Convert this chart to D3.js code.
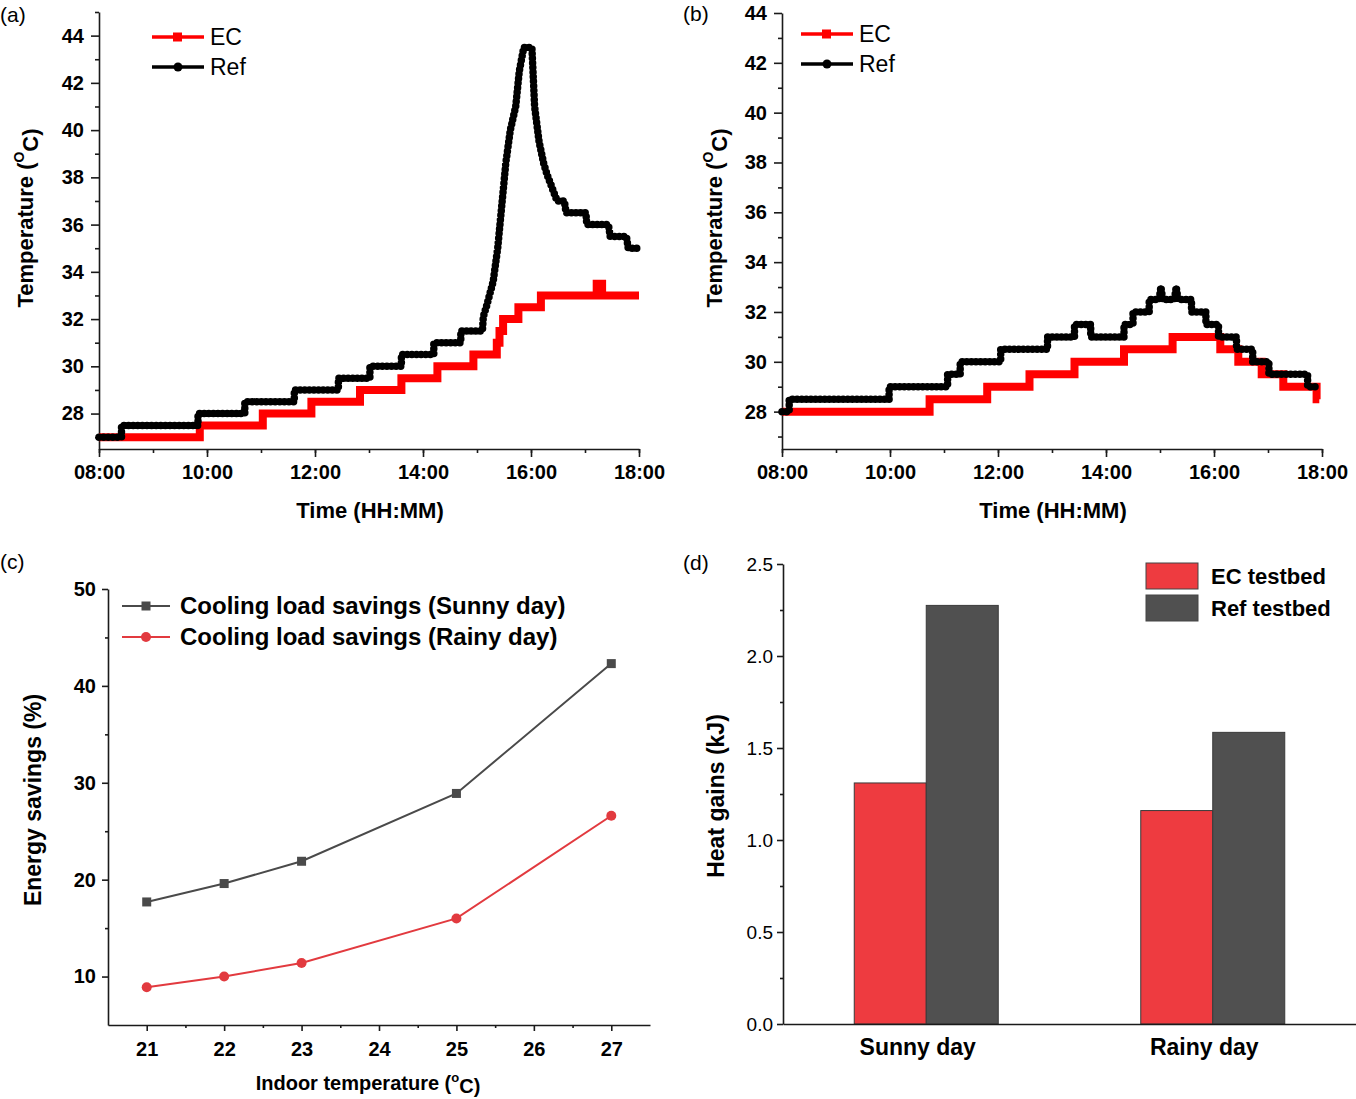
<!DOCTYPE html>
<html>
<head>
<meta charset="utf-8">
<script src="https://cdn.jsdelivr.net/npm/d3@7"></script>
<style>
body { margin: 0; background: #fff; }
text { font-family: "Liberation Sans", Arial, sans-serif; fill: #000; }
.ax .domain, .ax line { stroke: #1a1a1a; stroke-width: 1.6; }
</style>
</head>
<body>
<svg id="fig" width="1356" height="1099"></svg>
<script>
// ---- data ----
var timeTicks = ["08:00", "10:00", "12:00", "14:00", "16:00", "18:00"];
var tempTicks = [28, 30, 32, 34, 36, 38, 40, 42, 44];

// (a) sunny day, indoor temperature [time, degC]
var ecA = [["08:00",27],["09:52",27],["09:52",27.5],["11:02",27.5],["11:02",28],["11:56",28],["11:56",28.5],
  ["12:50",28.5],["12:50",29],["13:36",29],["13:36",29.5],["14:16",29.5],["14:16",30],["14:56",30],["14:56",30.5],
  ["15:22",30.5],["15:22",31],["15:25",31],["15:25",31.5],["15:29",31.5],["15:29",32],["15:46",32],["15:46",32.5],
  ["16:11",32.5],["16:11",33],["17:13",33],["17:13",33.5],["17:19",33.5],["17:19",33],["18:00",33]];
var refA = [["08:00",27],["08:25",27],["08:25",27.5],["09:50",27.5],["09:50",28],["10:42",28],["10:42",28.5],
  ["11:37",28.5],["11:37",29],["12:26",29],["12:26",29.5],["13:01",29.5],["13:01",30],["13:36",30],["13:36",30.5],
  ["14:12",30.5],["14:12",31],["14:42",31],["14:42",31.5],["15:06",31.5],["15:07",32.1],["15:11",32.6],
  ["15:18",33.6],["15:23",35.0],["15:28",37.0],["15:32",38.6],["15:37",40.0],["15:43",41.0],["15:47",42.5],
  ["15:52",43.5],["16:01",43.5],["16:04",41.0],["16:09",39.5],["16:14",38.6],["16:18",38.1],["16:23",37.6],
  ["16:29",37.0],["16:37",37.0],["16:39",36.5],["17:01",36.5],["17:02",36.0],["17:26",36.0],["17:28",35.5],
  ["17:46",35.5],["17:48",35.0],["18:00",35.0]];

// (b) rainy day
var ecB = [["08:00",28],["10:44",28],["10:44",28.5],["11:48",28.5],["11:48",29],["12:35",29],["12:35",29.5],
  ["13:25",29.5],["13:25",30],["14:20",30],["14:20",30.5],["15:14",30.5],["15:14",31],["16:07",31],["16:07",30.5],
  ["16:27",30.5],["16:27",30],["16:53",30],["16:53",29.5],["17:17",29.5],["17:17",29],["17:54",29],["17:54",28.5],
  ["17:57",28.5]];
var refB = [["08:00",28],["08:08",28],["08:08",28.5],["09:59",28.5],["09:59",29],["11:04",29],["11:04",29.5],
  ["11:18",29.5],["11:18",30],["12:03",30],["12:03",30.5],["12:55",30.5],["12:55",31],["13:25",31],["13:25",31.5],
  ["13:43",31.5],["13:43",31],["14:20",31],["14:20",31.5],["14:30",31.5],["14:30",32],["14:48",32],["14:48",32.5],
  ["14:59",32.5],["15:01",33],["15:03",32.5],["15:16",32.5],["15:18",33],["15:20",32.5],["15:35",32.5],["15:35",32],
  ["15:51",32],["15:51",31.5],["16:05",31.5],["16:05",31],["16:25",31],["16:25",30.5],["16:43",30.5],["16:43",30],
  ["17:01",30],["17:01",29.5],["17:44",29.5],["17:44",29],["17:55",29]];

// (c) cooling load savings vs indoor set point
var indoorT = [21, 22, 23, 25, 27];
var sunnySave = [17.7, 19.6, 21.9, 28.9, 42.3];
var rainySave = [8.9, 10.0, 11.4, 16.0, 26.6];
var saveTicks = [10, 20, 30, 40, 50];
var indoorTicks = [21, 22, 23, 24, 25, 26, 27];

// (d) heat gains
var days = ["Sunny day", "Rainy day"];
var ecGain = [1.31, 1.16];
var refGain = [2.275, 1.585];
var gainTicks = [0, 0.5, 1.0, 1.5, 2.0, 2.5];

var RED = "#ff0000", EC_BAR = "#ee3b40", GREY = "#505050";

var svg = d3.select("#fig");
var parseT = d3.timeParse("%H:%M");

function styleTicks(sel, size, weight) {
  sel.selectAll("text").attr("font-size", size).attr("font-weight", weight)
    .attr("fill", "#000").style("font-family", '"Liberation Sans", Arial, sans-serif');
}
function noDomain(sel) { sel.select(".domain").remove(); }

function panelLabel(x, y, t) {
  svg.append("text").attr("x", x).attr("y", y).attr("dy", "0.35em")
    .attr("font-size", 21).text(t);
}

// temperature panels (a) and (b)
function tempPanel(cfg) {
  var g = svg.append("g");
  var x = d3.scaleTime().domain([parseT("08:00"), parseT("18:00")]).range([cfg.x0, cfg.x1]);
  var y = d3.scaleLinear().domain(cfg.yDom).range([449, cfg.yTop]);

  g.append("g").attr("class", "ax").attr("transform", "translate(0,449)")
    .call(d3.axisBottom(x).tickValues(x.ticks(d3.timeHour.every(1))).tickSize(4).tickFormat(""))
    .call(noDomain);
  g.append("g").attr("class", "ax").attr("transform", "translate(0,449)")
    .call(d3.axisBottom(x).tickValues(timeTicks.map(parseT)).tickSize(8).tickSizeOuter(0)
      .tickPadding(8).tickFormat(d3.timeFormat("%H:%M")))
    .call(styleTicks, 20, "bold");

  var minorY = d3.range(27, cfg.yDom[1] + 0.01, 2);
  g.append("g").attr("class", "ax").attr("transform", "translate(" + cfg.x0 + ",0)")
    .call(d3.axisLeft(y).tickValues(minorY).tickSize(4).tickFormat(""))
    .call(noDomain);
  g.append("g").attr("class", "ax").attr("transform", "translate(" + cfg.x0 + ",0)")
    .call(d3.axisLeft(y).tickValues(tempTicks).tickSize(8).tickSizeOuter(0).tickPadding(7))
    .call(styleTicks, 20, "bold");

  var line = d3.line().x(function (d) { return x(parseT(d[0])); }).y(function (d) { return y(d[1]); });

  g.append("path").datum(cfg.ec).attr("d", line).attr("fill", "none")
    .attr("stroke", RED).attr("stroke-width", 8).attr("stroke-linejoin", "miter");
  g.append("path").datum(cfg.ref).attr("d", line).attr("fill", "none")
    .attr("stroke", "#000").attr("stroke-width", 3).attr("stroke-linejoin", "round");
  g.append("path").datum(cfg.ref).attr("d", line).attr("fill", "none")
    .attr("stroke", "#000").attr("stroke-width", 7.5).attr("stroke-linecap", "round")
    .attr("stroke-dasharray", "0 4.6");

  // legend
  var lg = g.append("g");
  var lx = cfg.legX;
  lg.append("line").attr("x1", lx).attr("x2", lx + 52).attr("y1", cfg.legY).attr("y2", cfg.legY)
    .attr("stroke", RED).attr("stroke-width", 3.5);
  lg.append("rect").attr("x", lx + 21).attr("y", cfg.legY - 4.5).attr("width", 9).attr("height", 9).attr("fill", RED);
  lg.append("text").attr("x", lx + 58).attr("y", cfg.legY).attr("dy", "0.35em").attr("font-size", 23).text("EC");
  lg.append("line").attr("x1", lx).attr("x2", lx + 52).attr("y1", cfg.legY + 30).attr("y2", cfg.legY + 30)
    .attr("stroke", "#000").attr("stroke-width", 3.5);
  lg.append("circle").attr("cx", lx + 26).attr("cy", cfg.legY + 30).attr("r", 4.5).attr("fill", "#000");
  lg.append("text").attr("x", lx + 58).attr("y", cfg.legY + 30).attr("dy", "0.35em").attr("font-size", 23).text("Ref");

  // axis titles
  g.append("text").attr("x", (cfg.x0 + cfg.x1) / 2 + 1).attr("y", 510).attr("dy", "0.35em")
    .attr("text-anchor", "middle").attr("font-size", 22).attr("font-weight", "bold").text("Time (HH:MM)");
  var yt = g.append("text").attr("transform", "translate(" + cfg.titleX + ",218) rotate(-90)")
    .attr("text-anchor", "middle").attr("dy", "0.35em").attr("font-size", 22).attr("font-weight", "bold");
  yt.append("tspan").text("Temperature (");
  yt.append("tspan").attr("font-size", 14).attr("dy", "-0.6em").text("O");
  yt.append("tspan").attr("dy", "0.6em").text("C)");
}

tempPanel({ x0: 99, x1: 639, yDom: [26.5, 45], yTop: 12, ec: ecA, ref: refA, legX: 152, legY: 37, titleX: 25 });
tempPanel({ x0: 782, x1: 1322, yDom: [26.5, 44], yTop: 13, ec: ecB, ref: refB, legX: 801, legY: 34, titleX: 714 });

// (c) energy savings
(function () {
  var g = svg.append("g");
  var x = d3.scaleLinear().domain([20.5, 27.5]).range([108, 650]);
  var y = d3.scaleLinear().domain([5, 50]).range([1025, 589]);

  g.append("g").attr("class", "ax").attr("transform", "translate(0,1025)")
    .call(d3.axisBottom(x).tickValues(d3.range(21.5, 27, 1)).tickSize(3).tickFormat(""))
    .call(noDomain);
  g.append("g").attr("class", "ax").attr("transform", "translate(0,1025)")
    .call(d3.axisBottom(x).tickValues(indoorTicks).tickSize(6).tickSizeOuter(0).tickPadding(11).tickFormat(d3.format("d")))
    .call(styleTicks, 20, "bold");
  g.append("g").attr("class", "ax").attr("transform", "translate(108,0)")
    .call(d3.axisLeft(y).tickValues([15, 25, 35, 45]).tickSize(3).tickFormat(""))
    .call(noDomain);
  g.append("g").attr("class", "ax").attr("transform", "translate(108,0)")
    .call(d3.axisLeft(y).tickValues(saveTicks).tickSize(6).tickSizeOuter(0).tickPadding(6))
    .call(styleTicks, 20, "bold");

  var series = [
    { vals: sunnySave, color: "#4a4a4a", mark: "square", name: "Cooling load savings (Sunny day)" },
    { vals: rainySave, color: "#e23a3f", mark: "circle", name: "Cooling load savings (Rainy day)" }
  ];
  var line = d3.line().x(function (d) { return x(d[0]); }).y(function (d) { return y(d[1]); });
  series.forEach(function (s, i) {
    var pts = indoorT.map(function (t, k) { return [t, s.vals[k]]; });
    g.append("path").datum(pts).attr("d", line).attr("fill", "none").attr("stroke", s.color).attr("stroke-width", 2);
    drawMark(g, s.mark, s.color, pts.map(function (p) { return [x(p[0]), y(p[1])]; }));
    var ly = 606 + i * 31;
    g.append("line").attr("x1", 122).attr("x2", 170).attr("y1", ly).attr("y2", ly).attr("stroke", s.color).attr("stroke-width", 2);
    drawMark(g, s.mark, s.color, [[146, ly]]);
    g.append("text").attr("x", 180).attr("y", ly).attr("dy", "0.35em").attr("font-size", 24)
      .attr("font-weight", "bold").text(s.name);
  });

  function drawMark(g, kind, color, pts) {
    if (kind === "square") {
      g.selectAll(null).data(pts).enter().append("rect")
        .attr("x", function (d) { return d[0] - 4.5; }).attr("y", function (d) { return d[1] - 4.5; })
        .attr("width", 9).attr("height", 9).attr("fill", color);
    } else {
      g.selectAll(null).data(pts).enter().append("circle")
        .attr("cx", function (d) { return d[0]; }).attr("cy", function (d) { return d[1]; })
        .attr("r", 5).attr("fill", color);
    }
  }

  var xt = g.append("text").attr("x", 368).attr("y", 1083).attr("dy", "0.35em").attr("text-anchor", "middle")
    .attr("font-size", 20).attr("font-weight", "bold");
  xt.append("tspan").text("Indoor temperature (");
  xt.append("tspan").attr("font-size", 13).attr("dy", "-0.6em").text("o");
  xt.append("tspan").attr("dy", "0.55em").text("C)");
  g.append("text").attr("transform", "translate(33,800) rotate(-90)").attr("text-anchor", "middle")
    .attr("dy", "0.35em").attr("font-size", 23).attr("font-weight", "bold").text("Energy savings (%)");
})();

// (d) heat gains
(function () {
  var g = svg.append("g");
  var x = d3.scalePoint().domain(days).range([783, 1356]).padding(0.5);
  var sub = d3.scaleBand().domain(["EC", "Ref"]).range([-72, 72]);
  var y = d3.scaleLinear().domain([0, 2.5]).range([1024, 564]);

  g.append("g").attr("class", "ax").attr("transform", "translate(783,0)")
    .call(d3.axisLeft(y).tickValues([0.25, 0.75, 1.25, 1.75, 2.25]).tickSize(3).tickFormat(""))
    .call(noDomain);
  g.append("g").attr("class", "ax").attr("transform", "translate(783,0)")
    .call(d3.axisLeft(y).tickValues(gainTicks).tickSize(6).tickSizeOuter(0).tickPadding(4).tickFormat(d3.format(".1f")))
    .call(styleTicks, 19, "normal");

  var bars = [];
  days.forEach(function (d, i) {
    bars.push({ day: d, key: "EC", v: ecGain[i], fill: EC_BAR });
    bars.push({ day: d, key: "Ref", v: refGain[i], fill: GREY });
  });
  g.selectAll("rect.bar").data(bars).enter().append("rect").attr("class", "bar")
    .attr("x", function (d) { return x(d.day) + sub(d.key); })
    .attr("width", sub.bandwidth())
    .attr("y", function (d) { return y(d.v); })
    .attr("height", function (d) { return y(0) - y(d.v); })
    .attr("fill", function (d) { return d.fill; })
    .attr("stroke", "#3a3a3a").attr("stroke-width", 1);

  g.append("g").attr("class", "ax").attr("transform", "translate(0,1024)")
    .call(d3.axisBottom(x).tickSize(0).tickSizeOuter(0).tickPadding(15))
    .call(styleTicks, 23, "bold")
    .call(function (s) { s.selectAll("text").attr("dx", -9); });

  var leg = [["EC testbed", EC_BAR], ["Ref testbed", GREY]];
  leg.forEach(function (l, i) {
    var ly = 563 + i * 32;
    g.append("rect").attr("x", 1146).attr("y", ly).attr("width", 52).attr("height", 26)
      .attr("fill", l[1]).attr("stroke", "#444").attr("stroke-width", 1);
    g.append("text").attr("x", 1211).attr("y", ly + 13).attr("dy", "0.35em").attr("font-size", 22)
      .attr("font-weight", "bold").text(l[0]);
  });

  g.append("text").attr("transform", "translate(716,796) rotate(-90)").attr("text-anchor", "middle")
    .attr("dy", "0.35em").attr("font-size", 23).attr("font-weight", "bold").text("Heat gains (kJ)");
})();

panelLabel(0, 15, "(a)");
panelLabel(683, 14, "(b)");
panelLabel(0, 562, "(c)");
panelLabel(683, 563, "(d)");
</script>
</body>
</html>
